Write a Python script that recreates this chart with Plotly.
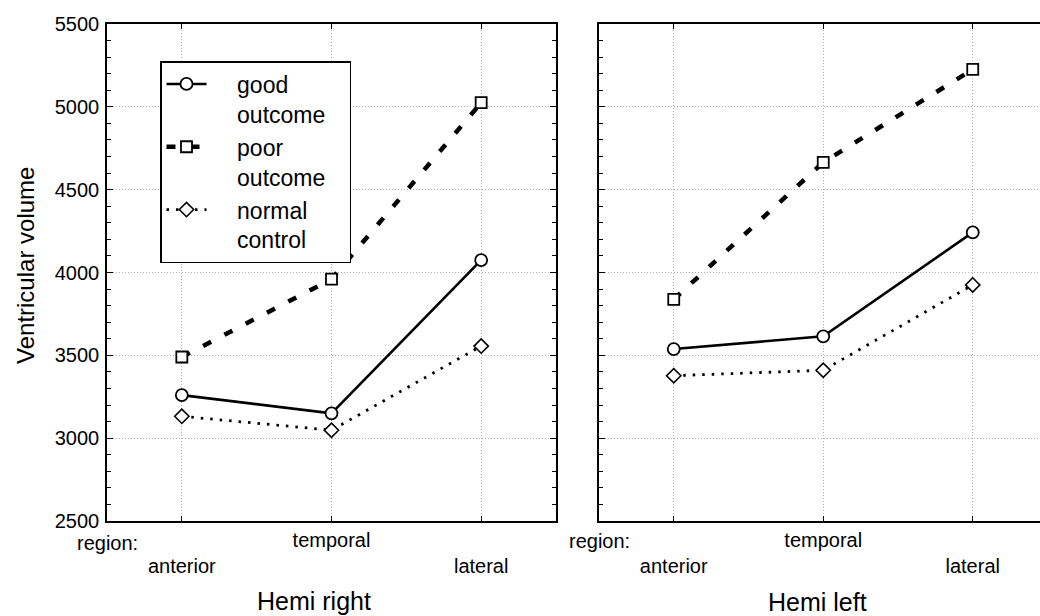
import plotly.graph_objects as go

regions = ["anterior", "temporal", "lateral"]
tick_text = ["<br>anterior", "temporal", "<br>lateral"]
PAD = "\u00a0\u00a0\u00a0\u00a0"
TAIL = "\u00a0\u00a0\u00a0"
series_names = [PAD + "good<br>" + PAD + "outcome" + TAIL,
                PAD + "poor<br>" + PAD + "outcome" + TAIL,
                PAD + "normal<br>" + PAD + "control"]

# Hemi right (left panel)
good_right = [3260, 3150, 4075]
poor_right = [3490, 3960, 5025]
normal_right = [3132, 3048, 3556]

# Hemi left (right panel)
good_left = [3538, 3615, 4242]
poor_left = [3838, 4665, 5226]
normal_left = [3377, 3410, 3925]

panel_titles = ["Hemi right", "Hemi left"]
y_title = "Ventricular volume"
region_label = "region:"

FONT = "Liberation Sans, Arial, Helvetica, sans-serif"

styles = [
    dict(line=dict(color="black", width=2.6, dash="solid"),
         marker=dict(symbol="circle", size=12, color="white", line=dict(color="black", width=1.8))),
    dict(line=dict(color="black", width=4.5, dash="9px,15px"),
         marker=dict(symbol="square", size=11, color="white", line=dict(color="black", width=1.8))),
    dict(line=dict(color="black", width=2.8, dash="2.5px,7px"),
         marker=dict(symbol="diamond", size=11, color="white", line=dict(color="black", width=1.6))),
]

x_idx = list(range(len(regions)))
fig = go.Figure()
for i, (name, yv) in enumerate(zip(series_names, [good_right, poor_right, normal_right])):
    fig.add_trace(go.Scatter(x=x_idx, y=yv, mode="lines+markers", name=name,
                             xaxis="x", yaxis="y", legendgroup=str(i), showlegend=True, **styles[i]))
for i, (name, yv) in enumerate(zip(series_names, [good_left, poor_left, normal_left])):
    fig.add_trace(go.Scatter(x=x_idx, y=yv, mode="lines+markers", name=name,
                             xaxis="x2", yaxis="y2", legendgroup=str(i), showlegend=False, **styles[i]))

W, H = 1040, 616
ml, mr, mt, mb = 107, 0, 24, 95
pw = W - ml - mr
ph = H - mt - mb

def px_x(p):
    return (p - ml) / pw

def px_y(p):
    return 1 - (p - mt) / ph

grid = dict(showgrid=True, gridcolor="#b0b0b0", gridwidth=1, griddash="1px,2px")
xcommon = dict(tickmode="array", tickvals=x_idx, ticktext=tick_text,
               showline=True, linecolor="black", linewidth=1.6,
               ticks="inside", ticklen=5, tickcolor="black",
               tickfont=dict(family=FONT, size=20, color="black"),
               zeroline=False, **grid)
ycommon = dict(range=[2500, 5500], tickvals=[2500, 3000, 3500, 4000, 4500, 5000, 5500],
               showline=True, linecolor="black", linewidth=1.6,
               ticks="inside", ticklen=6, tickcolor="black",
               minor=dict(dtick=100, ticks="inside", ticklen=4, tickcolor="black", showgrid=False),
               tickfont=dict(family=FONT, size=20, color="black"),
               zeroline=False, **grid)

fig.update_layout(
    width=W, height=H,
    margin=dict(l=ml, r=mr, t=mt, b=mb),
    paper_bgcolor="white", plot_bgcolor="white",
    font=dict(family=FONT, color="black"),
    xaxis=dict(domain=[0, px_x(556)], range=[-0.5, 2.5], mirror="ticks", **xcommon),
    xaxis2=dict(domain=[px_x(599), 1], range=[-0.5, 2.45], mirror="ticks", anchor="y2", **xcommon),
    yaxis=dict(mirror="ticks", anchor="x", ticklabelstandoff=2, **ycommon),
    yaxis2=dict(mirror=False, anchor="x2", showticklabels=False, **ycommon),
    legend=dict(x=px_x(160), y=px_y(61), xanchor="left", yanchor="top",
                bgcolor="white", bordercolor="black", borderwidth=1.5,
                font=dict(family=FONT, size=23, color="black"),
                valign="top", tracegroupgap=0, itemwidth=40),
    showlegend=True,
)

annotations = [
    dict(text=region_label, x=-0.5, xref="x", y=px_y(543), yref="paper",
         xanchor="center", yanchor="middle", showarrow=False,
         font=dict(family=FONT, size=20, color="black")),
    dict(text=region_label, x=-0.5, xref="x2", y=px_y(541), yref="paper",
         xanchor="center", yanchor="middle", showarrow=False,
         font=dict(family=FONT, size=20, color="black")),
    dict(text=panel_titles[0], x=px_x(314), xref="paper", y=px_y(601), yref="paper",
         xanchor="center", yanchor="middle", showarrow=False,
         font=dict(family=FONT, size=25, color="black")),
    dict(text=panel_titles[1], x=px_x(817), xref="paper", y=px_y(602), yref="paper",
         xanchor="center", yanchor="middle", showarrow=False,
         font=dict(family=FONT, size=25, color="black")),
    dict(text=y_title, x=px_x(25), xref="paper", y=px_y(266), yref="paper",
         xanchor="center", yanchor="middle", showarrow=False, textangle=-90,
         font=dict(family=FONT, size=24, color="black")),
]
fig.update_layout(annotations=annotations)

fig.write_html("out.html")
